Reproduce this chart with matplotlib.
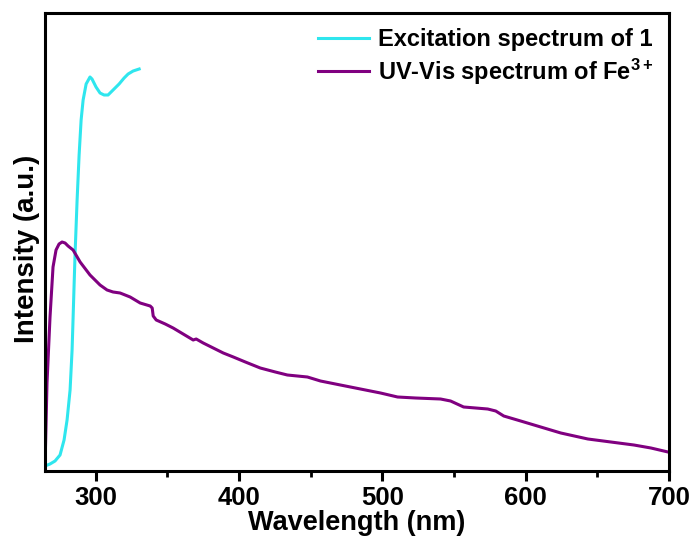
import matplotlib
matplotlib.use("Agg")
import matplotlib.pyplot as plt
from matplotlib.ticker import MultipleLocator, NullLocator

plt.rcParams['font.family'] = ['Liberation Sans', 'DejaVu Sans']
plt.rcParams['font.weight'] = 'bold'
plt.rcParams['mathtext.fontset'] = 'custom'
plt.rcParams['mathtext.bf'] = 'Liberation Sans:bold'
plt.rcParams['mathtext.rm'] = 'Liberation Sans:bold'
plt.rcParams['mathtext.default'] = 'bf'

# Excitation spectrum of 1
exc_wl = [264.6, 268.1, 271.6, 275.1, 277.9, 280.0, 282.1, 283.5, 284.2, 284.9,
          285.6, 287.0, 288.4, 289.8, 291.2, 293.3, 296.0, 297.4, 300.2, 303.0,
          305.8, 308.6, 310.7, 313.5, 316.3, 319.8, 322.6, 326.1, 330.3]
exc_int = [5, 7, 10, 16, 31, 51, 81, 121, 153, 186,
           218, 271, 316, 351, 371, 387, 394, 392, 384, 378,
           376, 376, 379, 383, 387, 393, 397, 400, 402]

# UV-Vis spectrum of Fe3+
uv_wl = [264.6, 266.0, 268.1, 270.2, 272.3, 274.4, 276.5, 278.6, 280.7, 284.2,
         289.1, 296.0, 303.0, 307.9, 312.1, 317.0, 320.5, 324.0, 331.0, 338.0,
         339.4, 340.1, 342.2, 348.5, 354.0, 361.0, 368.0, 370.1, 375.0, 382.0,
         389.0, 396.0, 404.4, 414.8, 425.3, 433.7, 447.7, 456.8, 470.7, 484.7,
         498.7, 510.6, 523.2, 540.6, 547.6, 556.7, 565.1, 573.5, 579.1, 584.7,
         596.5, 610.5, 624.5, 643.4, 659.4, 675.5, 687.4, 699.3]
uv_int = [3, 88, 154, 204, 221, 227, 229, 228, 225, 221,
          209, 196, 186, 181, 179, 178, 176, 174, 168, 165,
          163, 155, 151, 147, 143, 137, 131, 132, 128, 123,
          118, 114, 109, 103, 99, 96, 94, 90, 86, 82,
          78, 74, 73, 72, 70, 64, 63, 62, 60, 55,
          50, 44, 38, 32, 29, 26, 23, 19]

x_ticks = [300, 400, 500, 600, 700]

fig = plt.figure(figsize=(6.96, 5.42), dpi=100)
ax = fig.add_axes([45/696, 71/542, 624/696, 458/542])

ax.plot(exc_wl, exc_int, color='#2fe6ee', lw=2.2, label='Excitation spectrum of 1')
ax.plot(uv_wl, uv_int, color='#800080', lw=2.2, label='UV-Vis spectrum of Fe$^{3+}$')

ax.set_xlim(264.6, 700)
ax.set_ylim(0, 458)
ax.set_xticks(x_ticks)
ax.set_xticklabels([str(t) for t in x_ticks])
ax.xaxis.set_minor_locator(MultipleLocator(50))
ax.yaxis.set_major_locator(NullLocator())
ax.yaxis.set_minor_locator(NullLocator())

for s in ax.spines.values():
    s.set_linewidth(2.2)
ax.tick_params(axis='x', which='major', direction='out', length=7, width=2.2,
               labelsize=18.5, pad=4)
ax.tick_params(axis='x', which='minor', direction='out', length=4, width=2.0)
ax.tick_params(top=False, right=False)
for lbl in ax.get_xticklabels():
    lbl.set_fontweight('bold')

ax.set_xlabel('Wavelength (nm)', fontsize=19.5, fontweight='bold')
ax.xaxis.set_label_coords(0.5, -59.5/458, transform=ax.transAxes)
ax.xaxis.label.set_va('baseline')
ax.set_ylabel('Intensity (a.u.)', fontsize=20, fontweight='bold')
ax.yaxis.set_label_coords(-0.029, 0.484, transform=ax.transAxes)
ax.yaxis.label.set_va('center')

leg = ax.legend(loc='upper right', frameon=False, handlelength=2.2,
                handletextpad=0.35, labelspacing=0.22, borderaxespad=0.4,
                borderpad=0.25,
                prop={'weight': 'bold', 'size': 17})
fig.savefig('out.png', dpi=100)
